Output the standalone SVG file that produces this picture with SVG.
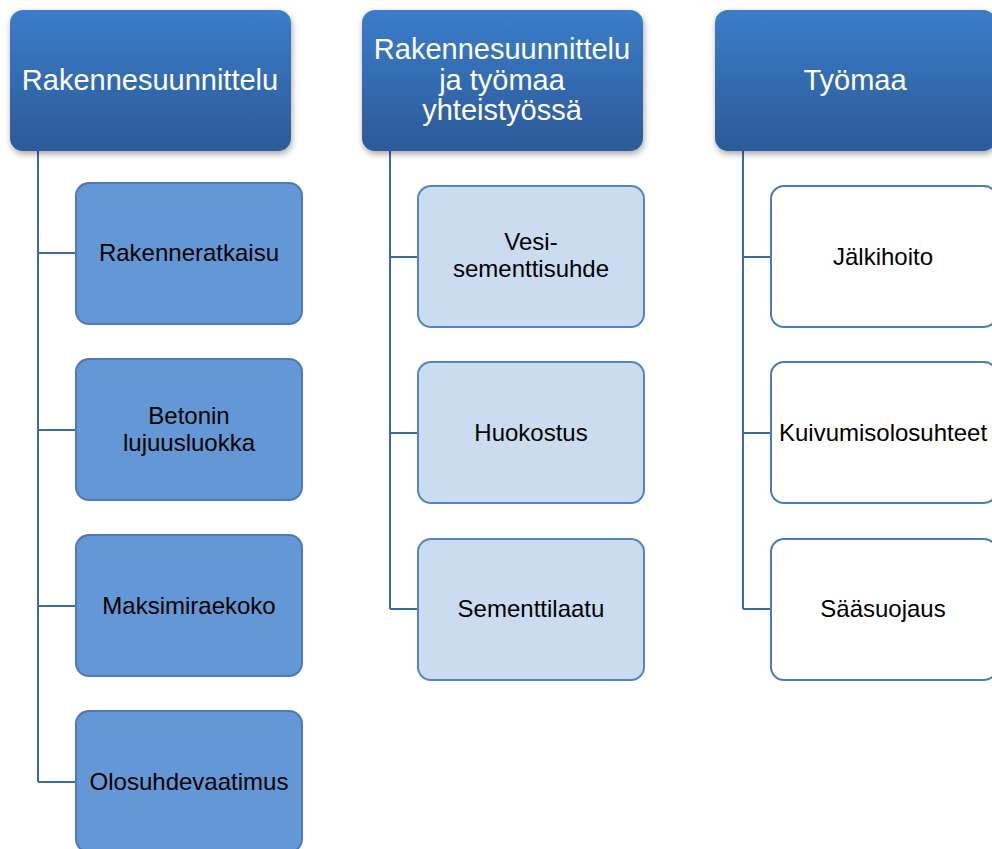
<svg xmlns="http://www.w3.org/2000/svg" width="992" height="849" viewBox="0 0 992 849">
<defs>
<linearGradient id="hg" x1="0" y1="0" x2="0" y2="1">
<stop offset="0" stop-color="#3b7dca"/>
<stop offset="1" stop-color="#2c5a97"/>
</linearGradient>
<filter id="sh" x="-10%" y="-10%" width="125%" height="130%">
<feDropShadow dx="1" dy="3" stdDeviation="3" flood-color="#000" flood-opacity="0.35"/>
</filter>
<style>
.hdr{fill:url(#hg);filter:url(#sh)}
.ht{font-family:"Liberation Sans",Arial,sans-serif;font-size:29px;fill:#fff;text-anchor:middle}
.ct{font-family:"Liberation Sans",Arial,sans-serif;font-size:24px;fill:#000;text-anchor:middle}
.c1{fill:#6497d6;stroke:#4a7ab8;stroke-width:2}
.c2{fill:#cbdcf0;stroke:#5585c0;stroke-width:2}
.c3{fill:#fff;stroke:#4a7ab8;stroke-width:2}
.ln{fill:none;stroke:#3e6ba6;stroke-width:2}
</style>
</defs>
<g id="connectors">
<path class="ln" d="M38 151V782M38 253H76M38 430H76M38 606H76M38 782H76"/>
<path class="ln" d="M390 151V609M390 257H418M390 433H418M390 609H418"/>
<path class="ln" d="M743 151V609M743 257H771M743 433H771M743 609H771"/>
</g>
<g id="h1"><rect class="hdr" x="10" y="10" width="281" height="141" rx="13"/><text class="ht" x="150" y="90">Rakennesuunnittelu</text></g>
<g id="h2"><rect class="hdr" x="362" y="10" width="281" height="141" rx="13"/><text class="ht" x="502" y="59">Rakennesuunnittelu</text><text class="ht" x="502" y="90">ja työmaa</text><text class="ht" x="502" y="120">yhteistyössä</text></g>
<g id="h3"><rect class="hdr" x="715" y="10" width="281" height="141" rx="13"/><text class="ht" x="855" y="90">Työmaa</text></g>
<g id="n1"><rect class="c1" x="76" y="183" width="226" height="141" rx="13"/><text class="ct" x="189" y="261">Rakenneratkaisu</text></g>
<g id="n2"><rect class="c1" x="76" y="359" width="226" height="141" rx="13"/><text class="ct" x="189" y="424">Betonin</text><text class="ct" x="189" y="451">lujuusluokka</text></g>
<g id="n3"><rect class="c1" x="76" y="535" width="226" height="141" rx="13"/><text class="ct" x="189" y="614">Maksimiraekoko</text></g>
<g id="n4"><rect class="c1" x="76" y="711" width="226" height="141" rx="13"/><text class="ct" x="189" y="790">Olosuhdevaatimus</text></g>
<g id="m1"><rect class="c2" x="418" y="186" width="226" height="141" rx="13"/><text class="ct" x="531" y="250">Vesi-</text><text class="ct" x="531" y="277">sementtisuhde</text></g>
<g id="m2"><rect class="c2" x="418" y="362" width="226" height="141" rx="13"/><text class="ct" x="531" y="441">Huokostus</text></g>
<g id="m3"><rect class="c2" x="418" y="539" width="226" height="141" rx="13"/><text class="ct" x="531" y="617">Sementtilaatu</text></g>
<g id="w1"><rect class="c3" x="771" y="186" width="226" height="141" rx="13"/><text class="ct" x="883" y="265">Jälkihoito</text></g>
<g id="w2"><rect class="c3" x="771" y="362" width="226" height="141" rx="13"/><text class="ct" x="883" y="441">Kuivumisolosuhteet</text></g>
<g id="w3"><rect class="c3" x="771" y="539" width="226" height="141" rx="13"/><text class="ct" x="883" y="617">Sääsuojaus</text></g>
</svg>
